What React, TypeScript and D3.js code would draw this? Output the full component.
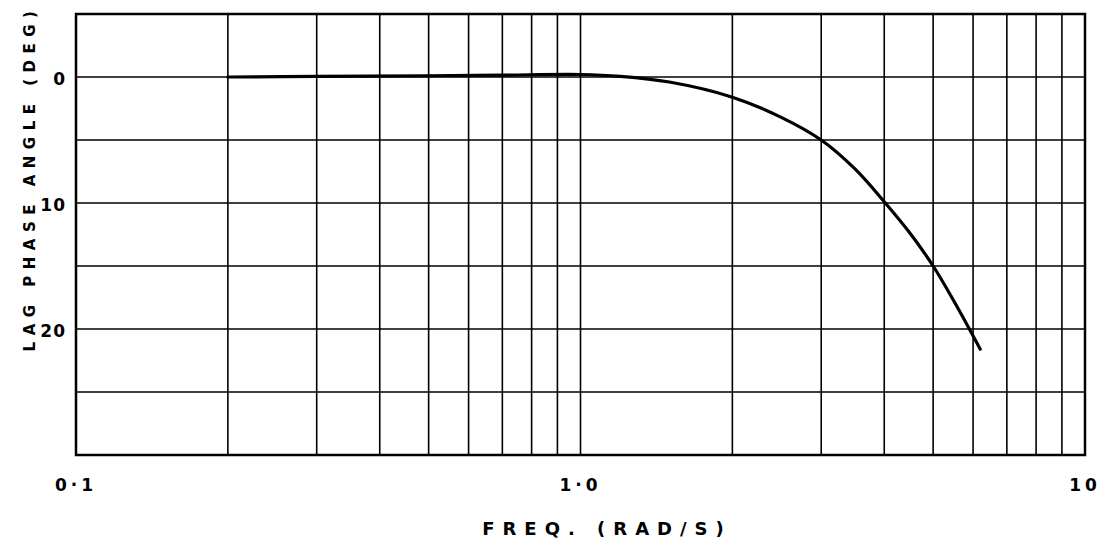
import React from "react";
import * as d3 from "d3";

const freq = [0.2, 0.3, 0.5, 0.7, 1.0, 1.2, 1.5, 2.0, 2.5, 3.0, 3.5, 4.0, 4.5, 5.0, 5.5, 6.2];
const lag = [0, -0.05, -0.1, -0.15, -0.2, -0.05, 0.4, 1.6, 3.2, 5.0, 7.3, 9.9, 12.4, 15.0, 17.8, 21.6];
const xGrid = [0.2, 0.3, 0.4, 0.5, 0.6, 0.7, 0.8, 0.9, 1, 2, 3, 4, 5, 6, 7, 8, 9];
const yGrid = [0, 5, 10, 15, 20, 25];
const yTicks = [0, 10, 20];
const xTicks = [
  { v: 0.1, label: "0·1" },
  { v: 1, label: "1·0" },
  { v: 10, label: "10" },
];

const W = 1100;
const H = 553;
const L = 76, R = 1085, T = 14, B = 455;

export default function App() {
  const x = d3.scaleLog().domain([0.1, 10]).range([L, R]);
  const y = d3.scaleLinear().domain([-5, 30]).range([T, B]);
  const line = d3
    .line<number>()
    .x((_, i) => x(freq[i]))
    .y((d) => y(d))
    .curve(d3.curveCatmullRom.alpha(0.5));
  const font = "'DejaVu Sans', sans-serif";
  return (
    <svg
      width={W}
      height={H}
      style={{ position: "absolute", left: 0, top: 0, background: "#fff" }}
    >
      {xGrid.map((v) => (
        <line key={"xg" + v} x1={x(v)} x2={x(v)} y1={T} y2={B} stroke="#000" strokeWidth={1.6} />
      ))}
      {yGrid.map((v) => (
        <line key={"yg" + v} x1={L} x2={R} y1={y(v)} y2={y(v)} stroke="#000" strokeWidth={1.5} />
      ))}
      <rect x={L} y={T} width={R - L} height={B - T} fill="none" stroke="#000" strokeWidth={2.5} />
      <path d={line(lag) || ""} fill="none" stroke="#000" strokeWidth={3.2} strokeLinecap="round" />
      {yTicks.map((v) => (
        <text
          key={"yt" + v}
          x={L - 10}
          y={y(v) + 2}
          textAnchor="end"
          dominantBaseline="central"
          fontFamily={font}
          fontWeight="bold"
          fontSize={17}
          letterSpacing={1}
        >
          {v}
        </text>
      ))}
      {xTicks.map((t) => (
        <text
          key={"xt" + t.v}
          x={x(t.v)}
          y={B + 30}
          textAnchor="middle"
          dominantBaseline="central"
          fontFamily={font}
          fontWeight="bold"
          fontSize={17}
          letterSpacing={4}
        >
          {t.label}
        </text>
      ))}
      <text
        x={607}
        y={528}
        textAnchor="middle"
        dominantBaseline="central"
        fontFamily={font}
        fontWeight="bold"
        fontSize={18}
        letterSpacing={8}
      >
        FREQ. (RAD/S)
      </text>
      <text
        transform={`translate(30, 178) rotate(-90)`}
        textAnchor="middle"
        dominantBaseline="central"
        fontFamily={font}
        fontWeight="bold"
        fontSize={15}
        letterSpacing={6.5}
      >
        LAG  PHASE  ANGLE  (DEG)
      </text>
    </svg>
  );
}
